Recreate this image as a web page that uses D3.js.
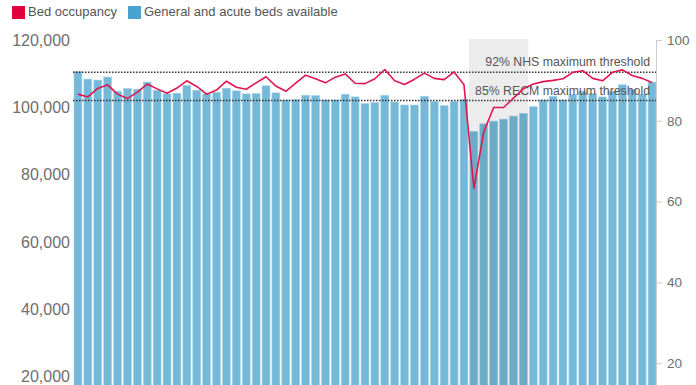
<!DOCTYPE html>
<html lang="en">
<meta charset="utf-8">
<head>
    <script src="https://d3js.org/d3.v7.min.js"></script>
    <style>
        body { margin: 0; background: #fff; }
        text { font-family: "Liberation Sans", Arial, sans-serif; }
    </style>
</head>
<body>
<div id="chart"></div>
<script>
// Beds available (left axis) and occupancy % (right axis), one value per period
const bedsAvailable = [110700, 108400, 108100, 109000, 104800, 105600, 105400, 107500, 105100, 104000,
    104200, 106500, 105100, 104000, 104500, 105700, 104900, 104000, 104100, 106400,
    104300, 102200, 102300, 103600, 103500, 102200, 102200, 103900, 103100, 101100,
    101400, 103600, 101600, 100700, 100700, 103300, 101700, 100500, 101800, 102400,
    92800, 95100, 95900, 96500, 97400, 98200, 100200, 102200, 103300, 102200,
    103800, 104800, 104100, 103100, 104800, 106700, 105300, 103900, 107500];
const occupancy = [86.6, 85.9, 88.0, 88.9, 86.6, 85.5, 87.1, 89.1, 87.9, 86.8,
    88.1, 89.9, 88.5, 86.6, 87.6, 89.8, 88.3, 87.8, 89.4, 90.9,
    88.6, 87.3, 89.3, 91.3, 90.4, 89.4, 90.8, 91.6, 89.3, 89.2,
    90.4, 92.7, 89.9, 89.0, 90.3, 91.8, 90.5, 90.2, 92.1, 88.9,
    63.3, 77.3, 83.3, 83.3, 85.6, 87.9, 89.1, 89.7, 90.0, 90.4,
    92.0, 92.4, 90.5, 89.9, 92.0, 92.6, 91.2, 90.5, 89.5];
const periods = d3.range(bedsAvailable.length);
const leftTicks = [20000, 40000, 60000, 80000, 100000, 120000];
const rightTicks = [20, 40, 60, 80, 100];
const thresholds = [92, 85];
const thresholdLabels = ["92% NHS maximum threshold", "85% RECM maximum threshold"];
const shadedPeriods = [40, 45];
const legendLabels = ["Bed occupancy", "General and acute beds available"];

const width = 696, height = 385;
const plotTop = 40, plotBottom = 444;   // y of the top value and of zero (below the visible area)

const svg = d3.select("#chart").append("svg")
    .attr("width", width)
    .attr("height", height);

const x = d3.scaleBand()
    .domain(periods)
    .range([73, 657])
    .paddingInner(0.2)
    .paddingOuter(0.1);

const yLeft = d3.scaleLinear().domain([0, 120000]).range([plotBottom, plotTop]);
const yRight = d3.scaleLinear().domain([0, 100]).range([plotBottom, plotTop]);

// bars
svg.append("g")
    .selectAll("rect")
    .data(bedsAvailable)
    .join("rect")
    .attr("x", (d, i) => x(i))
    .attr("width", x.bandwidth())
    .attr("y", d => yLeft(d))
    .attr("height", d => yLeft(0) - yLeft(d))
    .attr("fill", "#74b9d8")
    .attr("stroke", "#a8d3e7")
    .attr("stroke-width", 0.6);

// shaded period
const sx0 = x(shadedPeriods[0]) - 1;
const sx1 = x(shadedPeriods[1]) + x.bandwidth() + 1;
svg.append("rect")
    .attr("x", sx0)
    .attr("y", plotTop - 1)
    .attr("width", sx1 - sx0)
    .attr("height", height)
    .attr("fill", "#000")
    .attr("opacity", 0.075);

// thresholds
thresholds.forEach((t, i) => {
    svg.append("line")
        .attr("x1", 73).attr("x2", 656)
        .attr("y1", yRight(t)).attr("y2", yRight(t))
        .attr("stroke", "#333")
        .attr("stroke-width", 1.5)
        .attr("stroke-dasharray", "1.5,1.5");
    svg.append("text")
        .attr("x", 650)
        .attr("y", yRight(t) - 6)
        .attr("text-anchor", "end")
        .attr("font-size", 12.3)
        .attr("fill", "#555")
        .text(thresholdLabels[i]);
});

// left axis
const leftAxis = svg.append("g")
    .attr("transform", "translate(73,0)")
    .call(d3.axisLeft(yLeft).tickValues(leftTicks).tickSize(0).tickPadding(3)
        .tickFormat(d3.format(",")));
leftAxis.select(".domain").remove();
leftAxis.selectAll("text")
    .attr("font-size", 16)
    .attr("fill", "#6e6e6e")
    .attr("font-family", "Liberation Sans, Arial, sans-serif");

// right axis
const rightAxis = svg.append("g")
    .attr("transform", "translate(656,0)")
    .call(d3.axisRight(yRight).tickValues(rightTicks).tickSize(6).tickSizeOuter(0).tickPadding(5));
rightAxis.select(".domain").attr("stroke", "#ccc");
rightAxis.selectAll(".tick line").attr("stroke", "#ccc");
rightAxis.selectAll("text")
    .attr("font-size", 13.5)
    .attr("fill", "#6e6e6e")
    .attr("font-family", "Liberation Sans, Arial, sans-serif");

// occupancy line
svg.append("path")
    .datum(occupancy)
    .attr("fill", "none")
    .attr("stroke", "#e0164f")
    .attr("stroke-width", 1.6)
    .attr("stroke-linejoin", "round")
    .attr("d", d3.line()
        .x((d, i) => x(i) + x.bandwidth() / 2)
        .y(d => yRight(d)));

// legend
const legendColors = ["#e0003c", "#4aa3cd"];
const legendX = [12, 128];
legendLabels.forEach((l, i) => {
    svg.append("rect")
        .attr("x", legendX[i]).attr("y", 6)
        .attr("width", 13).attr("height", 13)
        .attr("fill", legendColors[i]);
    svg.append("text")
        .attr("x", legendX[i] + 16)
        .attr("y", 16)
        .attr("font-size", 13)
        .attr("fill", "#555")
        .text(l);
});
</script>
</body>
</html>
